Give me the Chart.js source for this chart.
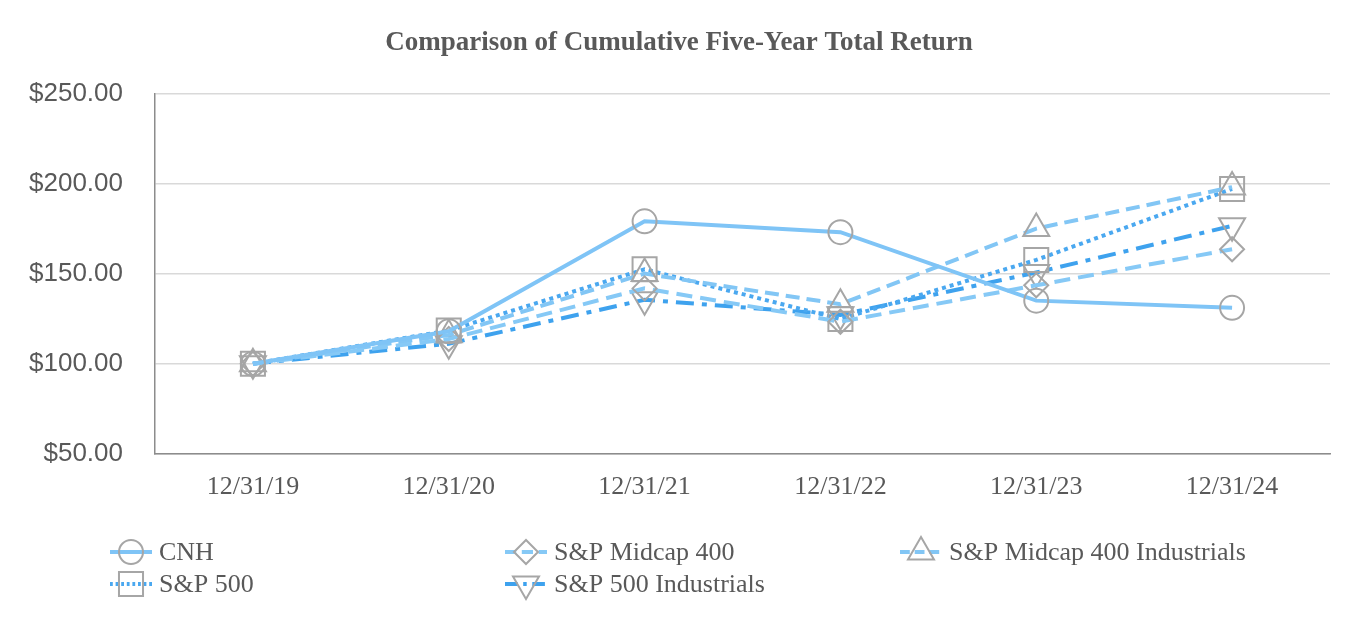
<!DOCTYPE html>
<html>
<head>
<meta charset="utf-8">
<script src="https://cdn.jsdelivr.net/npm/chart.js@4"></script>
<style>
  html, body { margin: 0; padding: 0; background: #ffffff; }
  #wrap { width: 1360px; height: 640px; }
</style>
</head>
<body>
<div id="wrap"><canvas id="c" width="1360" height="640"></canvas></div>
<script>
const categories = ['12/31/19', '12/31/20', '12/31/21', '12/31/22', '12/31/23', '12/31/24'];
const cnh = [100, 118, 179, 173, 135, 131];
const sp500 = [100, 118.4, 152.4, 124.8, 157.6, 197.0];
const midcap400 = [100, 113.7, 141.8, 123.3, 143.5, 163.5];
const midcap400Ind = [100, 116, 150, 133, 175, 198];
const sp500Ind = [100, 111.1, 135.5, 127.1, 150.6, 176.5];
const yTicks = [50, 100, 150, 200, 250];
const titleText = 'Comparison of Cumulative Five-Year Total Return';

const markerColor = '#a6a6a6';
function ds(label, data, color, dash, style, radius, rotation) {
  return {
    label, data,
    borderColor: color, borderWidth: 4, borderDash: dash,
    borderCapStyle: 'butt',
    tension: 0, fill: false,
    pointStyle: style, pointRadius: radius, pointHoverRadius: radius,
    pointRotation: rotation || 0,
    pointBorderColor: markerColor, pointBackgroundColor: 'rgba(0,0,0,0)',
    pointBorderWidth: 2
  };
}

const datasets = [
  ds('CNH', cnh, '#7fc4f6', [], 'circle', 12),
  ds('S&P Midcap 400', midcap400, '#86c9f6', [16, 8], 'rectRot', 12),
  ds('S&P Midcap 400 Industrials', midcap400Ind, '#82c6f5', [14, 7], 'triangle', 15),
  ds('S&P 500', sp500, '#4aa8f0', [4, 4], 'rect', 17),
  ds('S&P 500 Industrials', sp500Ind, '#3ea2ee', [18, 8, 5, 8], 'triangle', 15, 180)
];

const legendPlugin = {
  id: 'customLegend',
  afterDraw(chart) {
    const ctx = chart.ctx;
    const cols = [110, 505, 900];
    const rows = [552, 584];
    ctx.save();
    chart.data.datasets.forEach((d, i) => {
      const x = cols[i % 3];
      const y = rows[Math.floor(i / 3)];
      ctx.strokeStyle = d.borderColor;
      ctx.lineWidth = 4;
      ctx.setLineDash(d.borderDash && d.borderDash.length ? d.borderDash.map(v => v * 0.7) : []);
      ctx.beginPath();
      ctx.moveTo(x, y);
      ctx.lineTo(x + 42, y);
      ctx.stroke();
      ctx.setLineDash([]);
      ctx.fillStyle = 'rgba(0,0,0,0)';
      ctx.strokeStyle = markerColor;
      ctx.lineWidth = 2;
      Chart.helpers.drawPoint(ctx, {
        pointStyle: d.pointStyle,
        rotation: d.pointRotation,
        borderWidth: 2,
        radius: d.pointRadius
      }, x + 21, y);
      ctx.fillStyle = '#595959';
      ctx.font = '26px "Liberation Serif"';
      ctx.textBaseline = 'middle';
      ctx.textAlign = 'left';
      ctx.fillText(d.label, x + 49, y + 1);
    });
    ctx.restore();
  }
};

new Chart(document.getElementById('c'), {
  type: 'line',
  data: { labels: categories, datasets },
  plugins: [legendPlugin],
  options: {
    responsive: false,
    devicePixelRatio: 1,
    animation: false,
    layout: { padding: { left: 28, right: 30, top: 0, bottom: 119 } },
    plugins: {
      legend: { display: false },
      tooltip: { enabled: false },
      title: {
        display: true,
        text: titleText,
        color: '#595959',
        font: { family: 'Liberation Serif', size: 27, weight: 'bold' },
        padding: { top: 27, bottom: 34 }
      }
    },
    scales: {
      x: {
        type: 'category',
        offset: true,
        grid: { display: false, drawTicks: false },
        border: { display: true, color: '#8c8c8c', width: 1.5 },
        ticks: {
          color: '#595959',
          font: { family: 'Liberation Serif', size: 26 },
          padding: 18,
          maxRotation: 0
        }
      },
      y: {
        min: 50, max: 250,
        afterBuildTicks(scale) { scale.ticks = yTicks.map(v => ({ value: v })); },
        afterFit(scale) { scale.width = 127; },
        grid: { color: '#d9d9d9', lineWidth: 1.5, drawTicks: false },
        border: { display: true, color: '#8c8c8c', width: 1.5 },
        ticks: {
          color: '#595959',
          font: { family: 'Liberation Sans', size: 26 },
          padding: 32,
          callback: v => '$' + Number(v).toFixed(2)
        }
      }
    }
  }
});
</script>
</body>
</html>
